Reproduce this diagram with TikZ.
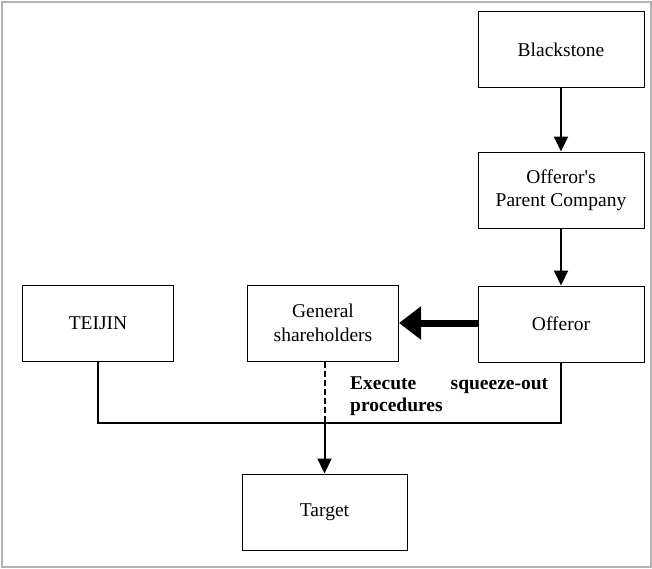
\documentclass[tikz,border=0pt]{standalone}
\usepackage{fontspec}
\setmainfont{Liberation Serif}
\usepackage{tikz}
\usetikzlibrary{arrows.meta, positioning}

\begin{document}
\begin{tikzpicture}[
    x=1pt, y=-1pt,
    font=\fontsize{19.5pt}{23.5pt}\selectfont,
    entity/.style={draw, line width=1pt, inner sep=0pt, align=center,
      minimum height=76pt},
    link/.style={line width=2pt, -{Triangle[length=15pt, width=14pt]}},
    ]
    \useasboundingbox (0, 0) rectangle (652, 568);
    \draw[black!30, line width=2pt] (1.5, 1.5) rectangle (650.5, 566.5);

    \node[entity, minimum width=166pt] (blackstone) at (561, 49.5) {Blackstone};
    \node[entity, minimum width=166pt] (parent) at (561, 190) {Offeror\textquotesingle s\\Parent Company};
    \node[entity, minimum width=166pt] (offeror) at (561, 324) {Offeror};
    \node[entity, minimum width=151pt] (general) at (323, 323) {General\\shareholders};
    \node[entity, minimum width=151pt] (teijin) at (98, 323.5) {TEIJIN};
    \node[entity, minimum width=165pt] (target) at (324.5, 512) {Target};

    \draw[link] (blackstone) -- (parent);
    \draw[link] (parent) -- (offeror);
    \draw[line width=7pt, -{Triangle[length=22pt, width=32pt]}]
      (offeror.west |- 0, 323) -- (general.east |- 0, 323);

    % consolidation bar
    \coordinate (bar) at (0, 423);
    \draw[line width=2pt] (teijin.south) -- (teijin.south |- bar)
      -- (offeror.south |- bar) -- (offeror.south);
    \draw[line width=2pt, dash pattern=on 6pt off 3pt]
      (target.north |- general.south) -- (target.north |- bar);
    \draw[link] (target.north |- bar) -- (target.north);

    \node[anchor=north west, inner sep=0pt, text width=198pt, align=left,
      font=\fontsize{19.5pt}{21.5pt}\selectfont\bfseries] (squeeze) at (350, 377)
      {Execute\hfill squeeze-out\\procedures};
\end{tikzpicture}
\end{document}
